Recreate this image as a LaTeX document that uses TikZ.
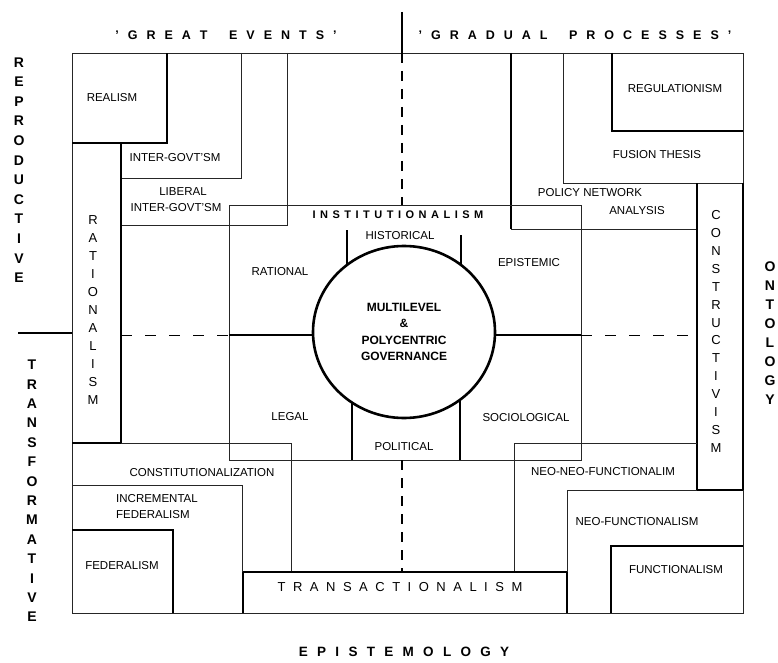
\documentclass[tikz,border=0pt]{standalone}
\usepackage{fontspec}
\setmainfont{Liberation Sans}
\usetikzlibrary{shapes.geometric}
\makeatletter
\newcommand\spreadtext[2]{\@tfor\spr@c:=#2\do{\spr@c\kern#1\relax}\kern-#1\relax}
\makeatother
\begin{document}
\begin{tikzpicture}[x=1pt,y=-1pt,
  ln/.style={line width=0.8pt, draw=black!85},
  md/.style={line width=1.4pt},
  tk/.style={line width=2.4pt, line join=miter},
  dshv/.style={line width=1.4pt, dash pattern=on 10pt off 8pt},
  dshh/.style={line width=1pt, dash pattern=on 11pt off 13pt},
  lbl/.style={font=\fontsize{11.5}{13}\selectfont, inner sep=0pt},
  head/.style={font=\bfseries\fontsize{12.5}{14}\selectfont, inner sep=0pt},
  vbold/.style={font=\bfseries\fontsize{14}{#1}\selectfont, align=center, inner sep=0pt},
  vreg/.style={font=\fontsize{13}{#1}\selectfont, align=center, inner sep=0pt}
]
\useasboundingbox (0,0) rectangle (778,663);
\fill[white] (0,0) rectangle (778,663);

% outer frame
\draw[ln] (72,53) rectangle (743,613);

% top-left nest
\draw[ln] (241,53) -- (241,178) -- (121,178);
\draw[ln] (287,53) -- (287,225) -- (121,225);
\draw[tk] (72,143) -- (167,143) -- (167,53);
\draw[tk] (121,143) -- (121,443);
\draw[md] (72,443) -- (121,443);

% top-right nest
\draw[ln] (563,53) -- (563,183) -- (743,183);
\draw[ln] (511,229) -- (697,229);
\draw[tk] (511,53) -- (511,229);
\draw[tk] (612,53) -- (612,131) -- (743,131);
\draw[tk] (697,183) -- (697,490) -- (743,490);
\draw[md] (743,183) -- (743,490);

% bottom-right nest
\draw[ln] (514,572) -- (514,443) -- (697,443);
\draw[ln] (567,572) -- (567,490) -- (697,490);
\draw[tk] (611,613) -- (611,546) -- (743,546);

% bottom-left nest
\draw[ln] (121,443) -- (291,443) -- (291,572);
\draw[ln] (72,485) -- (242,485) -- (242,572);
\draw[tk] (72,530) -- (173,530) -- (173,613);

% transactionalism box
\draw[md] (243,572) -- (567,572);
\draw[tk] (243,572) -- (243,613);
\draw[tk] (567,572) -- (567,613);

% institutionalism box
\draw[ln] (229,205) rectangle (581,460);

% axes
\draw[dshh] (121,335) -- (229,335);
\draw[tk] (229,335) -- (340,335);
\draw[tk] (470,335) -- (581,335);
\draw[dshh] (581,335) -- (697,335);
\draw[tk] (402,12) -- (402,53);
\draw[dshv] (402,53) -- (402,205);
\draw[dshv] (402,460) -- (402,572);
\draw[tk] (18,333) -- (72,333);

% dividers around the circle
\draw[tk] (347,230) -- (347,300);
\draw[tk] (461,235) -- (461,300);
\draw[tk] (352,370) -- (352,460);
\draw[tk] (460,370) -- (460,460);

% central circle
\node[ellipse, draw, line width=2.6pt, fill=white, minimum width=182pt, minimum height=172pt,
      inner sep=0pt, align=center, font=\bfseries\fontsize{12}{16.5}\selectfont] (gov) at (404,332)
  {MULTILEVEL\\\&\hspace*{22pt}\\POLYCENTRIC\\GOVERNANCE};

% headings
\node[head] (great) at (226,35) {\spreadtext{9pt}{'GREAT~EVENTS'}};
\node[head] (grad) at (575,35) {\spreadtext{9pt}{'GRADUAL~PROCESSES'}};
\node[font=\bfseries\fontsize{13.5}{16}\selectfont, inner sep=0pt] (epis) at (404,652) {\spreadtext{9.3pt}{EPISTEMOLOGY}};
\node[vbold=19.6] (repro) at (19,170) {R\\E\\P\\R\\O\\D\\U\\C\\T\\I\\V\\E};
\node[vbold=19.4] (transf) at (32,491) {T\\R\\A\\N\\S\\F\\O\\R\\M\\A\\T\\I\\V\\E};
\node[vbold=19] (onto) at (770,333.5) {O\\N\\T\\O\\L\\O\\G\\Y};

% block titles
\node[vreg=18] (ratio) at (93,310) {R\\A\\T\\I\\O\\N\\A\\L\\I\\S\\M};
\node[vreg=17.9] (constr) at (716,331.5) {C\\O\\N\\S\\T\\R\\U\\C\\T\\I\\V\\I\\S\\M};
\node[font=\fontsize{13}{15}\selectfont, inner sep=0pt] (transa) at (400,587) {\spreadtext{7.5pt}{TRANSACTIONALISM}};
\node[font=\bfseries\fontsize{11}{13}\selectfont, inner sep=0pt] (inst) at (398,215) {\spreadtext{4.5pt}{INSTITUTIONALISM}};

% labels
\node[lbl] (realism) at (112,98) {REALISM};
\node[lbl] (intergov) at (175,158) {INTER-GOVT'SM};
\node[lbl, align=center] (libinter) at (176,200) {\makebox[0pt]{\hspace*{14pt}LIBERAL}\\[3pt]INTER-GOVT'SM};
\node[lbl] (rational) at (280,272) {RATIONAL};
\node[lbl] (historical) at (400,236) {HISTORICAL};
\node[lbl] (epistemic) at (529,263) {EPISTEMIC};
\node[lbl] (legal) at (290,417) {LEGAL};
\node[lbl] (sociological) at (526,418) {SOCIOLOGICAL};
\node[lbl] (political) at (404,447) {POLITICAL};
\node[lbl] (constit) at (202,473) {CONSTITUTIONALIZATION};
\node[lbl, anchor=west, align=left] (incfed) at (116,507) {INCREMENTAL\\[3pt]FEDERALISM};
\node[lbl] (federalism) at (122,566) {FEDERALISM};
\node[lbl] (regul) at (675,89) {REGULATIONISM};
\node[lbl] (fusion) at (657,155) {FUSION THESIS};
\node[lbl] (policy) at (590,193) {POLICY NETWORK};
\node[lbl] (analysis) at (637,211) {ANALYSIS};
\node[lbl] (neoneo) at (603,472) {NEO-NEO-FUNCTIONALIM};
\node[lbl] (neofun) at (637,522) {NEO-FUNCTIONALISM};
\node[lbl] (functional) at (676,570) {FUNCTIONALISM};
\end{tikzpicture}
\end{document}
